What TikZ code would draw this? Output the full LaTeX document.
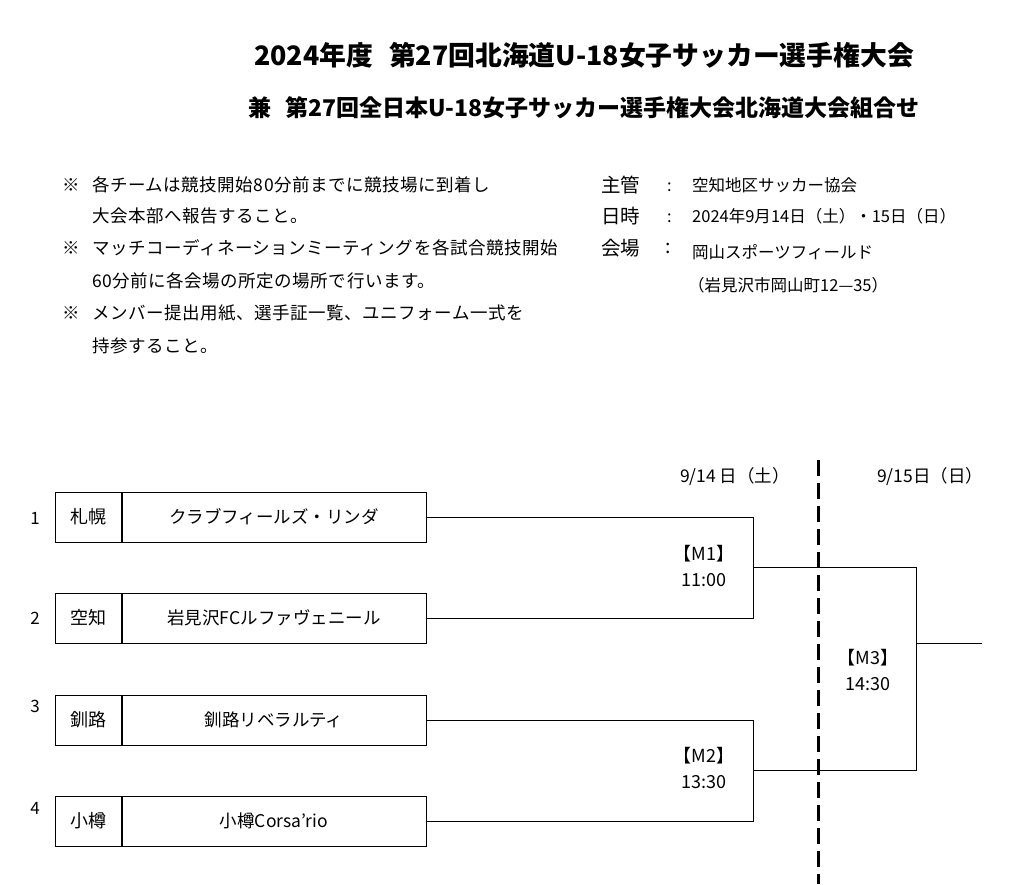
\documentclass[tikz,border=0pt]{standalone}
\usepackage{fontspec}
\setmainfont{Noto Sans CJK JP}
\usetikzlibrary{positioning}
\begin{document}
\begin{tikzpicture}[x=1pt,y=-1pt,
    title/.style={inner sep=0pt,font=\fontsize{26.8}{26.8}\selectfont\bfseries},
    subtitle/.style={inner sep=0pt,font=\fontsize{23}{23}\selectfont\bfseries},
    note/.style={anchor=west,inner sep=0pt,font=\fontsize{17.5}{17.5}\selectfont\addfontfeature{LetterSpace=3}},
    info/.style={anchor=west,inner sep=0pt,font=\fontsize{19.5}{19.5}\selectfont},
    val/.style={anchor=west,inner sep=0pt,font=\fontsize{16.5}{16.5}\selectfont},
    num/.style={inner sep=0pt,font=\fontsize{17}{17}\selectfont},
    pref/.style={draw,line width=1pt,minimum width=66pt,minimum height=50pt,inner sep=0pt,font=\fontsize{18}{18}\selectfont},
    team/.style={draw,line width=1pt,minimum width=304pt,minimum height=50pt,inner sep=0pt,font=\fontsize{17.5}{17.5}\selectfont},
    match/.style={inner sep=0pt,align=center,font=\fontsize{18}{26}\selectfont},
    day/.style={inner sep=0pt,font=\fontsize{17.5}{17.5}\selectfont},
    bracket/.style={line width=1pt}]
    \useasboundingbox (0,0) rectangle (1024,884);
    \node[title] (h1) at (584,55) {2024年度\hspace{0.6em}第27回北海道U-18女子サッカー選手権大会};
    \node[subtitle] (h2) at (584,108) {兼\hspace{0.6em}第27回全日本U-18女子サッカー選手権大会北海道大会組合せ};
    \node[note] (k1) at (62,185) {※};
    \node[note] (n1) at (92,185) {各チームは競技開始80分前までに競技場に到着し};
    \node[note] (n2) at (92,216) {大会本部へ報告すること。};
    \node[note] (k2) at (62,248) {※};
    \node[note] (n3) at (92,248) {マッチコーディネーションミーティングを各試合競技開始};
    \node[note] (n4) at (92,281) {60分前に各会場の所定の場所で行います。};
    \node[note] (k3) at (62,313) {※};
    \node[note] (n5) at (92,313) {メンバー提出用紙、選手証一覧、ユニフォーム一式を};
    \node[note] (n6) at (92,346) {持参すること。};
    \node[info] (i1) at (601,185) {主管};
    \node[val] (c1) at (667,187) {:};
    \node[val] (v1) at (692,185) {空知地区サッカー協会};
    \node[info] (i2) at (601,216) {日時};
    \node[val] (c2) at (667,218) {:};
    \node[val] (v2) at (692,216) {2024年9月14日（土）・15日（日）};
    \node[info] (i3) at (601,248) {会場};
    \node[info] (c3) at (665,248) {:};
    \node[val] (v3) at (692,252) {岡山スポーツフィールド};
    \node[val] (v4) at (688,285) {（岩見沢市岡山町12—35）};
    \node[day] (d1) at (735,477) {9/14 日（土）};
    \node[day] (d2) at (930,477) {9/15日（日）};
    \node[num] (s1) at (35,518) {1};
    \node[num] (s2) at (35,618) {2};
    \node[num] (s3) at (35,706) {3};
    \node[num] (s4) at (35,808) {4};
    \node[pref] (p1) at (88,517) {札幌};
    \node[team,right=0pt of p1] (t1) {クラブフィールズ・リンダ};
    \node[pref] (p2) at (88,618) {空知};
    \node[team,right=0pt of p2] (t2) {岩見沢FCルファヴェニール};
    \node[pref] (p3) at (88,720) {釧路};
    \node[team,right=0pt of p3] (t3) {釧路リベラルティ};
    \node[pref] (p4) at (88,821) {小樽};
    \node[team,right=0pt of p4] (t4) {小樽Corsa'rio};
    \coordinate (m1) at (753,567);
    \coordinate (m2) at (753,770);
    \coordinate (m3) at (916,643);
    \coordinate (w) at (982,643);
    \coordinate (top) at (818,460);
    \coordinate (bot) at (818,884);
    \draw[bracket] (t1.east) -| (m1) |- (t2.east);
    \draw[bracket] (t3.east) -| (m2) |- (t4.east);
    \draw[bracket] (m1) -| (m3) |- (m2);
    \draw[bracket] (m3) -- (w);
    \draw[line width=3pt,dash pattern=on 16pt off 7pt] (top) -- (bot);
    \node[match] (l1) at (704,566) {【M1】\\11:00};
    \node[match] (l2) at (704,768) {【M2】\\13:30};
    \node[match] (l3) at (868,670) {【M3】\\14:30};
\end{tikzpicture}
\end{document}
